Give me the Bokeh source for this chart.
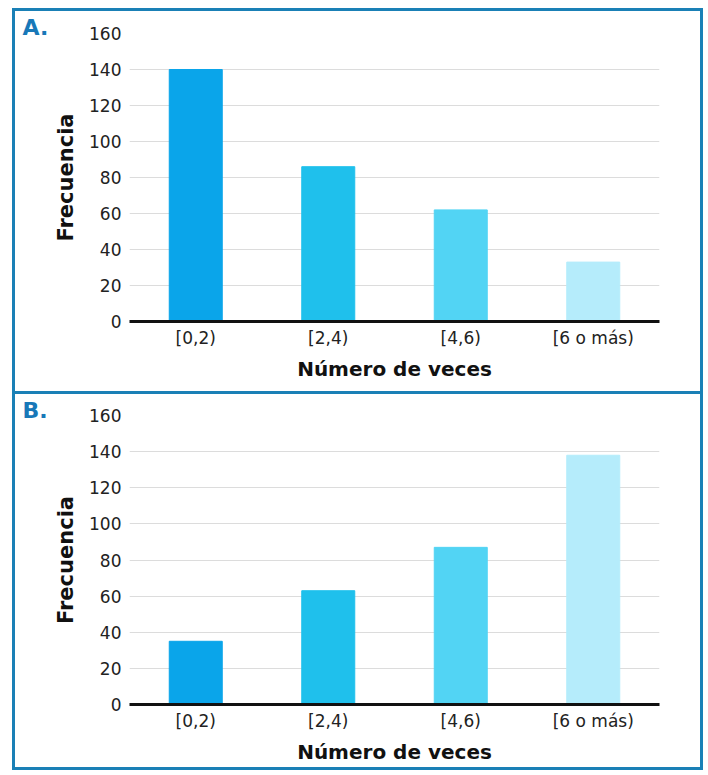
from bokeh.plotting import figure
from bokeh.layouts import column
from bokeh.models import FactorRange, Range1d, ColumnDataSource
from bokeh.embed import file_html
from bokeh.resources import INLINE

categories = ["[0,2)", "[2,4)", "[4,6)", "[6 o más)"]
freq_a = [140, 86, 62, 33]
freq_b = [35, 63, 87, 138]
bar_colors = ["#0aa5ea", "#1fc0ec", "#52d4f4", "#b5ecfb"]
y_ticks = [0, 20, 40, 60, 80, 100, 120, 140, 160]

FONT = "DejaVu Sans"
BORDER = "#1a80b6"


def make_panel(label, values, height, min_top, min_bottom, margin, standoff, top_border=True):
    p = figure(
        x_range=FactorRange(*categories, range_padding=0),
        y_range=Range1d(0, 160),
        width=691, height=height,
        output_backend="svg", toolbar_location=None,
        min_border_left=114, min_border_right=47,
        min_border_top=min_top, min_border_bottom=min_bottom,
        margin=margin,
    )
    src = ColumnDataSource(dict(cat=categories, val=values, color=bar_colors))
    p.vbar(x="cat", top="val", width=0.4, color="color", source=src)

    p.title.text = label
    p.title.text_font = FONT
    p.title.text_font_style = "bold"
    p.title.text_font_size = "22px"
    p.title.text_color = "#1878b8"
    p.title.align = "left"
    p.title.offset = -107
    p.title.standoff = standoff
    p.title.text_line_height = 0.8

    p.yaxis.ticker = y_ticks
    p.yaxis.axis_line_color = None
    p.yaxis.major_tick_line_color = None
    p.yaxis.minor_tick_line_color = None
    p.yaxis.major_tick_out = 0
    p.yaxis.major_tick_in = 0
    p.yaxis.minor_tick_out = 0
    p.yaxis.major_label_standoff = 8
    p.yaxis.major_label_text_font = FONT
    p.yaxis.major_label_text_font_size = "17px"
    p.yaxis.major_label_text_color = "#222222"
    p.yaxis.axis_label = "Frecuencia"
    p.yaxis.axis_label_text_font = FONT
    p.yaxis.axis_label_text_font_style = "bold"
    p.yaxis.axis_label_text_font_size = "21px"
    p.yaxis.axis_label_text_color = "#111111"
    p.yaxis.axis_label_standoff = 8

    p.xaxis.axis_line_color = "#111111"
    p.xaxis.axis_line_width = 3
    p.xaxis.major_tick_line_color = None
    p.xaxis.minor_tick_line_color = None
    p.xaxis.major_tick_out = 0
    p.xaxis.major_tick_in = 0
    p.xaxis.minor_tick_out = 0
    p.xaxis.major_label_standoff = 6
    p.xaxis.major_label_text_font = FONT
    p.xaxis.major_label_text_font_size = "17px"
    p.xaxis.major_label_text_color = "#222222"
    p.xaxis.axis_label = "Número de veces"
    p.xaxis.axis_label_text_font = FONT
    p.xaxis.axis_label_text_font_style = "bold"
    p.xaxis.axis_label_text_font_size = "20px"
    p.xaxis.axis_label_text_color = "#111111"
    p.xaxis.axis_label_standoff = 6

    p.xgrid.grid_line_color = None
    p.ygrid.grid_line_color = "#dcdcdc"
    p.ygrid.grid_line_width = 1
    p.outline_line_color = None

    st = {"border": f"3px solid {BORDER}"}
    if not top_border:
        st["border-top"] = "none"
    p.styles = st
    return p


pa = make_panel("A.", freq_a, 386, 22, 76, (8, 0, 0, 12), -12)
pb = make_panel("B.", freq_b, 376, 21, 66, (0, 0, 0, 12), -14, top_border=False)

layout = column(pa, pb, spacing=0)
open("out.html", "w").write(file_html(layout, INLINE))
